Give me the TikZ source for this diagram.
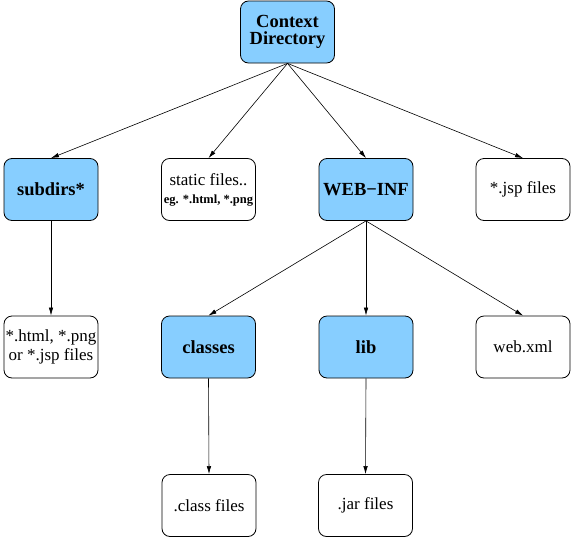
\documentclass[tikz,border=0pt]{standalone}
\usepackage{fontspec}
\setmainfont{Liberation Serif}
\usetikzlibrary{arrows.meta}
\definecolor{ltblue}{RGB}{135,206,255}
\tikzset{
  box/.style={draw, line width=0.8pt, rounded corners=8pt, minimum width=94pt, minimum height=62pt, inner sep=0pt, align=center, font=\fontsize{17}{17}\selectfont},
  bluebox/.style={box, fill=ltblue, font=\fontsize{18.5}{17}\selectfont\bfseries},
  conn/.style={line width=0.6pt, -{Latex[length=8pt,width=4.5pt]}}
}
\begin{document}
\begin{tikzpicture}[x=1pt,y=-1pt]
\useasboundingbox (0,0) rectangle (572,538);
\node[bluebox] (ctx) at (287.5,32) {Context\\Directory};
\node[bluebox] (subdirs) at (51,189.5) {subdirs*};
\node[box] (static) at (208.5,189.5) {static files..\\[1pt]{\fontsize{12.5}{13}\selectfont\bfseries eg. *.html, *.png}};
\node[bluebox] (webinf) at (366,189.5) {WEB−INF};
\node[box] (jsp) at (523,189.5) {*.jsp files};
\node[box, font=\fontsize{17}{19}\selectfont] (html) at (51,347) {*.html, *.png\\or *.jsp files};
\node[bluebox] (classes) at (208.5,347) {classes};
\node[bluebox] (lib) at (366,347) {lib};
\node[box] (webxml) at (523,347) {web.xml};
\node[box] (classf) at (209,505.5) {.class files};
\node[box] (jar) at (365.5,505.5) {.jar files};
\draw[conn] (ctx.south) -- (subdirs.north);
\draw[conn] (ctx.south) -- (static.north);
\draw[conn] (ctx.south) -- (webinf.north);
\draw[conn] (ctx.south) -- (jsp.north);
\draw[conn] (subdirs.south) -- (html.north);
\draw[conn] (webinf.south) -- (classes.north);
\draw[conn] (webinf.south) -- (lib.north);
\draw[conn] (webinf.south) -- (webxml.north);
\draw[conn] (classes.south) -- (classf.north);
\draw[conn] (lib.south) -- (jar.north);
\end{tikzpicture}
\end{document}
